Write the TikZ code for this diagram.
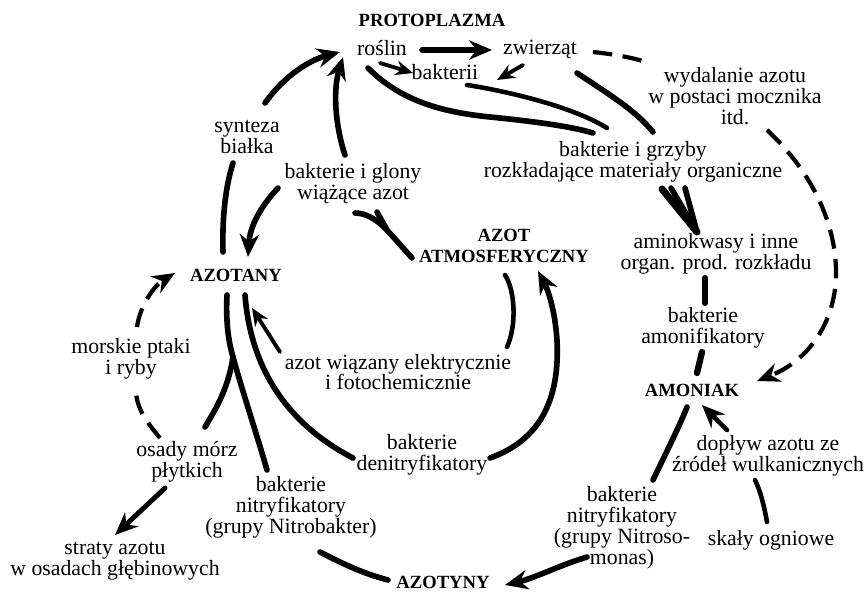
\documentclass[tikz,border=0pt]{standalone}
\usepackage{fontspec}
\setmainfont{Liberation Serif}
\usetikzlibrary{arrows.meta,calc}

\tikzset{
	lab/.style={font=\fontsize{12.4}{11.9}\selectfont, align=center, inner sep=0pt},
	hdr/.style={font=\fontsize{10.6}{11.9}\selectfont\bfseries, align=center, inner sep=0pt},
	flow/.style={line width=3.2pt, line cap=round},
	arr/.style={flow, -{Stealth[length=13pt,width=11pt]}},
	thinarr/.style={line width=2.2pt, line cap=round, -{Stealth[length=10pt,width=8.5pt]}},
	dashflow/.style={line width=2.4pt, dash pattern=on 11pt off 6pt},
}

\begin{document}
\begin{tikzpicture}[x=0.02cm,y=-0.02cm]
	\useasboundingbox (0,0) rectangle (866,593);

	\node[hdr] (proto) at (432,20) {PROTOPLAZMA};
	\node[lab] (roslin) at (382,48) {roślin};
	\node[lab] (zwierzat) at (540,49) {zwierząt};
	\node[lab] (bakterii) at (445,72) {bakterii};
	\node[lab] (wydalanie) at (735,96) {wydalanie azotu\\w postaci mocznika\\itd.};
	\node[lab] (synteza) at (247,137) {synteza\\białka};
	\node[lab] (grzyby) at (633,162) {bakterie i grzyby\\rozkładające materiały organiczne};
	\node[lab] (glony) at (353,184) {bakterie i glony\\wiążące azot};
	\node[hdr] (atmo) at (504,246) {AZOT\\ATMOSFERYCZNY};
	\node[lab] (amino) at (716,254) {aminokwasy i inne\\organ. prod. rozkładu};
	\node[hdr] (azotany) at (236,275) {AZOTANY};
	\node[lab] (amonif) at (703,328) {bakterie\\amonifikatory};
	\node[lab] (morskie) at (131,359) {morskie ptaki\\i ryby};
	\node[lab] (elektr) at (398,372) {azot wiązany elektrycznie\\i fotochemicznie};
	\node[hdr] (amoniak) at (692,390) {AMONIAK};
	\node[lab] (denitr) at (422,455) {bakterie\\denitryfikatory};
	\node[lab] (doplyw) at (768,456) {dopływ azotu ze\\źródeł wulkanicznych};
	\node[lab] (osady) at (187,462) {osady mórz\\płytkich};
	\node[lab] (nitrobakter) at (291,507) {bakterie\\nitryfikatory\\(grupy Nitrobakter)};
	\node[lab] (nitroso) at (622,528) {bakterie\\nitryfikatory\\(grupy Nitroso-\\monas)};
	\node[lab] (skaly) at (771,540) {skały ogniowe};
	\node[lab] (straty) at (115,561) {straty azotu\\w osadach głębinowych};
	\node[hdr] (azotyny) at (443,582) {AZOTYNY};

	\draw[arr] ($(roslin)+(40,2)$) -- ($(zwierzat)+(-48,1)$);
	\draw[thinarr] ($(roslin)+(-2,15)$) -- ($(bakterii)+(-32,1)$);
	\draw[thinarr] ($(zwierzat)+(-17,16)$) -- ($(bakterii)+(52,8)$);
	\draw[flow] ($(roslin)+(-14,20)$) .. controls (400,100) and (440,112) .. (490,117) .. controls (530,121) and (570,126) .. ($(grzyby)+(-40,-29)$);
	\draw[flow, line width=2.6pt] ($(bakterii)+(22,13)$) .. controls (500,90) and (570,105) .. ($(grzyby)+(-26,-34)$);
	\draw[flow] ($(zwierzat)+(37,24)$) .. controls (610,95) and (635,110) .. ($(grzyby)+(20,-30)$);
	\draw[flow, line width=4pt] ($(grzyby)+(29,27)$) -- ($(amino)+(-19,-22)$);
	\draw[flow] ($(grzyby)+(38,26)$) -- ($(amino)+(-19,-22)$);
	\draw[flow] ($(grzyby)+(52,26)$) -- ($(amino)+(-19,-22)$);

	\draw[dashflow] ($(zwierzat)+(53,3)$) .. controls (612,54) and (630,57) .. ($(wydalanie)+(-89,-34)$);
	\draw[dashflow, -{Stealth[length=13pt,width=11pt]}] ($(wydalanie)+(32,34)$) .. controls (810,170) and (835,220) .. (836,270) .. controls (837,320) and (810,360) .. ($(amoniak)+(65,-9)$);

	\draw[flow, line width=3.6pt] ($(amino)+(-11,24)$) -- ($(amonif)+(2,-25)$);
	\draw[flow, line width=3.6pt] ($(amonif)+(-1,24)$) -- ($(amoniak)+(5,-17)$);

	\draw[flow] ($(azotany)+(-13,-23)$) .. controls (222,215) and (226,185) .. ($(synteza)+(-14,26)$);
	\draw[arr] ($(synteza)+(18,-34)$) .. controls (285,75) and (310,60) .. ($(roslin)+(-42,4)$);
	\draw[arr] ($(glony)+(-8,-29)$) .. controls (335,125) and (333,90) .. ($(roslin)+(-39,9)$);
	\draw[arr] ($(glony)+(-75,4)$) .. controls (262,205) and (250,225) .. ($(azotany)+(12,-18)$);

	\coordinate (fork) at ($(atmo)+(-117,-16)$);
	\draw[flow] ($(atmo)+(-92,12)$) -- (fork) .. controls (375,218) and (365,213) .. ($(glony)+(2,29)$);
	\draw[flow] (fork) -- ($(glony)+(24,28)$);

	\coordinate (split) at ($(azotany)+(-3,82)$);
	\draw[flow] ($(azotany)+(-9,20)$) .. controls (226,315) and (227,337) .. (split) .. controls (242,390) and (257,435) .. ($(nitrobakter)+(-24,-37)$);
	\draw[flow] (split) .. controls (228,390) and (215,410) .. ($(osady)+(18,-35)$);
	\draw[flow] ($(azotany)+(9,20)$) .. controls (250,360) and (280,420) .. ($(denitr)+(-69,3)$);
	\draw[thinarr] ($(elektr)+(-118,-20)$) -- ($(azotany)+(16,33)$);
	\draw[flow, line width=2.6pt] ($(atmo)+(1,29)$) .. controls (515,290) and (517,325) .. ($(elektr)+(109,-25)$);
	\draw[arr] ($(denitr)+(68,3)$) .. controls (540,440) and (560,400) .. (557,340) .. controls (555,310) and (548,290) .. ($(atmo)+(34,25)$);

	\draw[dashflow] ($(osady)+(-27,-24)$) .. controls (145,420) and (137,408) .. ($(morskie)+(5,33)$);
	\draw[dashflow, -{Stealth[length=13pt,width=11pt]}] ($(morskie)+(6,-32)$) .. controls (140,305) and (155,285) .. ($(azotany)+(-61,-2)$);
	\draw[arr, line width=2.8pt] ($(osady)+(-22,26)$) -- ($(straty)+(0,-26)$);

	\draw[flow] ($(nitrobakter)+(29,45)$) .. controls (345,565) and (365,574) .. ($(azotyny)+(-55,-2)$);
	\draw[arr] ($(nitroso)+(-35,29)$) .. controls (560,565) and (535,578) .. ($(azotyny)+(62,3)$);
	\draw[flow] ($(nitroso)+(31,-48)$) .. controls (665,455) and (680,425) .. ($(amoniak)+(-5,17)$);
	\draw[arr, line width=2.6pt] ($(doplyw)+(-41,-26)$) -- ($(amoniak)+(10,15)$);
	\draw[flow, line width=2.6pt] ($(skaly)+(-4,-18)$) .. controls (764,505) and (760,490) .. ($(doplyw)+(-13,24)$);
\end{tikzpicture}
\end{document}
